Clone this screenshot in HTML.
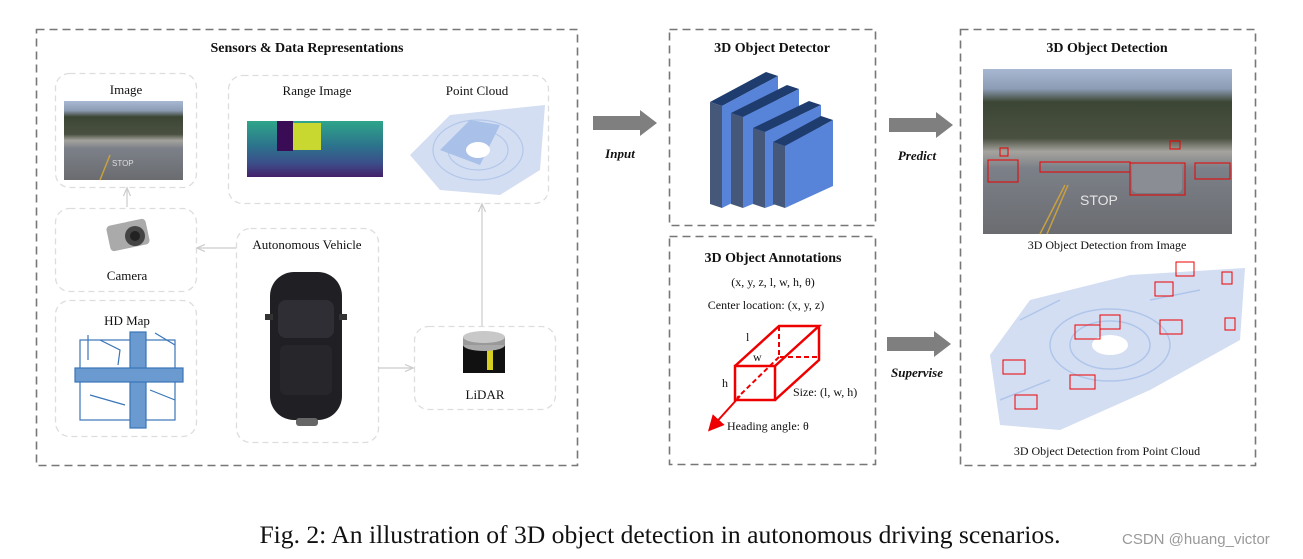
<!DOCTYPE html>
<html><head><meta charset="utf-8">
<style>
body{margin:0;width:1303px;height:559px;background:#fff;position:relative;overflow:hidden;font-family:"Liberation Serif",serif;color:#111}
.t{position:absolute;white-space:nowrap;transform:translateX(-50%)}
</style></head><body>
<svg width="1303" height="559" style="position:absolute;left:0;top:0" font-family="Liberation Serif, serif">
<defs>
<marker id="ga" markerWidth="8" markerHeight="8" refX="6" refY="4" orient="auto"><path d="M0,1 L7,4 L0,7" fill="none" stroke="#ccc" stroke-width="1"/></marker>
<marker id="ra" markerWidth="8" markerHeight="8" refX="5" refY="4" orient="auto"><path d="M0,0 L8,4 L0,8 z" fill="#e00"/></marker>
<linearGradient id="sky" x1="0" y1="0" x2="0" y2="1"><stop offset="0" stop-color="#a9b8d2"/><stop offset="0.12" stop-color="#8d9cb5"/><stop offset="0.2" stop-color="#3c4634"/><stop offset="0.42" stop-color="#4a5040"/><stop offset="0.5" stop-color="#a5a39e"/><stop offset="0.6" stop-color="#7c8088"/><stop offset="1" stop-color="#6a6c70"/></linearGradient>
<linearGradient id="rng" x1="0" y1="0" x2="0" y2="1"><stop offset="0" stop-color="#2fa58a"/><stop offset="0.45" stop-color="#2c728c"/><stop offset="0.75" stop-color="#3b4f8a"/><stop offset="1" stop-color="#44206a"/></linearGradient>
</defs>
<g fill="none" stroke="#777" stroke-width="1.6" stroke-dasharray="8,5">
<rect x="36.5" y="29.5" width="541" height="436"/>
<rect x="669.5" y="29.5" width="206" height="196"/>
<rect x="669.5" y="236.5" width="206" height="228"/>
<rect x="960.5" y="29.5" width="295" height="436"/>
</g>
<g fill="none" stroke="#ddd" stroke-width="1.3" stroke-dasharray="6,4">
<rect x="55.5" y="73.5" width="141" height="114" rx="14"/>
<rect x="228.5" y="75.5" width="320" height="128" rx="14"/>
<rect x="55.5" y="208.5" width="141" height="83" rx="14"/>
<rect x="55.5" y="300.5" width="141" height="136" rx="14"/>
<rect x="236.5" y="228.5" width="142" height="214" rx="14"/>
<rect x="414.5" y="326.5" width="141" height="83" rx="14"/>
</g>
<g stroke="#ccc" stroke-width="1.2" fill="none">
<line x1="127" y1="207" x2="127" y2="189" marker-end="url(#ga)"/>
<line x1="236" y1="248" x2="198" y2="248" marker-end="url(#ga)"/>
<line x1="378" y1="368" x2="412" y2="368" marker-end="url(#ga)"/>
<line x1="482" y1="326" x2="482" y2="205" marker-end="url(#ga)"/>
</g>
<!-- image -->
<rect x="64" y="101" width="119" height="79" fill="url(#sky)"/>
<text x="112" y="166" font-size="8" fill="#ddd" font-family="Liberation Sans">STOP</text>
<line x1="100" y1="180" x2="110" y2="155" stroke="#c9a040" stroke-width="1.5"/>
<!-- range image -->
<rect x="247" y="121" width="136" height="56" fill="url(#rng)"/>
<rect x="277" y="121" width="16" height="30" fill="#3a0c55"/>
<rect x="293" y="123" width="28" height="27" fill="#c8d830"/>
<!-- point cloud -->
<polygon points="410,155 450,115 545,105 540,170 500,195 440,190" fill="#d3def2"/>
<g fill="none" stroke="#b3c7ea" stroke-width="1.2"><ellipse cx="478" cy="150" rx="30" ry="20"/><ellipse cx="478" cy="150" rx="45" ry="30"/></g>
<polygon points="440,150 470,120 500,125 480,165" fill="#a9c1e8"/>
<ellipse cx="478" cy="150" rx="12" ry="8" fill="#fff"/>
<!-- camera -->
<rect x="108" y="222" width="40" height="26" rx="4" fill="#aaa" transform="rotate(-12 128 235)"/>
<circle cx="135" cy="236" r="10" fill="#444"/><circle cx="135" cy="236" r="5" fill="#222"/>
<!-- HD map -->
<g stroke="#3a75b8" stroke-width="1.2" fill="none">
<rect x="80" y="340" width="95" height="80"/>
<rect x="130" y="332" width="16" height="96" fill="#6a9ad0"/>
<rect x="75" y="368" width="108" height="14" fill="#6a9ad0"/>
<path d="M88,335 L88,360 M100,340 L120,350 L118,365 M155,333 L175,345 M150,390 L175,400 M90,395 L125,405"/>
</g>
<!-- car -->
<rect x="270" y="272" width="72" height="148" rx="24" fill="#1f1f24"/>
<rect x="278" y="300" width="56" height="38" rx="8" fill="#2e2e34"/>
<rect x="280" y="345" width="52" height="50" rx="6" fill="#26262b"/>
<rect x="265" y="314" width="8" height="6" fill="#333"/><rect x="339" y="314" width="8" height="6" fill="#333"/>
<rect x="296" y="418" width="22" height="8" rx="3" fill="#666"/>
<!-- lidar -->
<rect x="463" y="345" width="42" height="28" fill="#111"/>
<rect x="487" y="348" width="6" height="22" fill="#d8d020"/>
<ellipse cx="484" cy="345" rx="21" ry="6" fill="#aaa"/>
<rect x="463" y="337" width="42" height="8" fill="#999"/>
<ellipse cx="484" cy="337" rx="21" ry="6" fill="#c8c8c8"/>
<!-- big arrows -->
<g fill="#7f7f7f">
<polygon points="593,116 640,116 640,110 657,123 640,136 640,130 593,130"/>
<polygon points="889,118 936,118 936,112 953,125 936,138 936,132 889,132"/>
<polygon points="887,337 934,337 934,331 951,344 934,357 934,351 887,351"/>
</g>
<!-- cubes -->
<g>
<g><polygon points="710,102 766,72 778,76 722,106" fill="#1f3c6e"/><polygon points="710,102 722,106 722,208 710,204" fill="#45587a"/><polygon points="722,106 778,76 778,180 722,208" fill="#5783d9"/></g>
<g><polygon points="731,113 787,85 799,89 743,117" fill="#1f3c6e"/><polygon points="731,113 743,117 743,208 731,204" fill="#45587a"/><polygon points="743,117 799,89 799,185 743,208" fill="#5783d9"/></g>
<g><polygon points="753,128 809,101 821,105 765,132" fill="#1f3c6e"/><polygon points="753,128 765,132 765,208 753,204" fill="#45587a"/><polygon points="765,132 821,105 821,188 765,208" fill="#5783d9"/></g>
<g><polygon points="773,142 821,116 833,120 785,146" fill="#1f3c6e"/><polygon points="773,142 785,146 785,208 773,204" fill="#45587a"/><polygon points="785,146 833,120 833,186 785,208" fill="#5783d9"/></g>
</g>
<!-- 3D box -->
<g stroke="#e00" stroke-width="2.5" fill="none">
<rect x="735" y="366" width="40" height="34"/>
<path d="M735,366 L779,326 L819,326 L775,366 M819,326 L819,360 L775,400"/>
<path d="M779,326 L779,357 L819,357 M779,357 L737,398" stroke-dasharray="5,3" stroke-width="2"/>
<line x1="740" y1="396" x2="712" y2="427" marker-end="url(#ra)" stroke-width="2"/>
</g>
<!-- right image -->
<rect x="983" y="69" width="249" height="165" fill="url(#sky)"/>
<rect x="1132" y="163" width="50" height="30" rx="5" fill="#8a8e94"/>
<text x="1080" y="205" font-size="14" fill="#e4e4e4" font-family="Liberation Sans">STOP</text>
<path d="M1040,234 L1065,185 M1047,234 L1068,185" stroke="#c9a040" stroke-width="1.5"/>
<g fill="none" stroke="#e00" stroke-width="1"><rect x="988" y="160" width="30" height="22"/><rect x="1130" y="163" width="55" height="32"/><rect x="1040" y="162" width="90" height="10"/><rect x="1195" y="163" width="35" height="16"/><rect x="1000" y="148" width="8" height="8"/><rect x="1170" y="141" width="10" height="8"/></g>
<!-- right point cloud -->
<polygon points="990,355 1030,300 1130,275 1245,268 1240,340 1150,390 1060,430 1000,425" fill="#d3def2"/>
<g fill="none" stroke="#b0c5ea" stroke-width="1.5"><ellipse cx="1110" cy="345" rx="40" ry="24"/><ellipse cx="1110" cy="345" rx="60" ry="36"/><path d="M1020,320 L1060,300 M1000,400 L1050,380 M1150,300 L1200,290"/></g>
<ellipse cx="1110" cy="345" rx="18" ry="10" fill="#fff"/>
<g fill="none" stroke="#e00" stroke-width="1"><rect x="1003" y="360" width="22" height="14"/><rect x="1015" y="395" width="22" height="14"/><rect x="1070" y="375" width="25" height="14"/><rect x="1075" y="325" width="25" height="14"/><rect x="1100" y="315" width="20" height="14"/><rect x="1160" y="320" width="22" height="14"/><rect x="1155" y="282" width="18" height="14"/><rect x="1176" y="262" width="18" height="14"/><rect x="1222" y="272" width="10" height="12"/><rect x="1225" y="318" width="10" height="12"/></g>
</svg>
<div class="t" style="left:307px;top:41px;font-weight:bold;font-size:14px">Sensors &amp; Data Representations</div>
<div class="t" style="left:126px;top:82px;font-size:13px">Image</div>
<div class="t" style="left:317px;top:83px;font-size:13px">Range Image</div>
<div class="t" style="left:477px;top:83px;font-size:13px">Point Cloud</div>
<div class="t" style="left:127px;top:268px;font-size:13px">Camera</div>
<div class="t" style="left:127px;top:313px;font-size:13px">HD Map</div>
<div class="t" style="left:307px;top:237px;font-size:13px">Autonomous Vehicle</div>
<div class="t" style="left:485px;top:387px;font-size:13px">LiDAR</div>
<div class="t" style="left:620px;top:146px;font-size:13px;font-weight:bold;font-style:italic">Input</div>
<div class="t" style="left:772px;top:41px;font-size:14px;font-weight:bold">3D Object Detector</div>
<div class="t" style="left:773px;top:251px;font-size:14px;font-weight:bold">3D Object Annotations</div>
<div class="t" style="left:773px;top:275px;font-size:12px">(x, y, z, l, w, h, θ)</div>
<div class="t" style="left:766px;top:298px;font-size:12px">Center location: (x, y, z)</div>
<div style="position:absolute;left:746px;top:330px;font-size:12px">l</div>
<div style="position:absolute;left:753px;top:350px;font-size:12px">w</div>
<div style="position:absolute;left:722px;top:376px;font-size:12px">h</div>
<div style="position:absolute;left:793px;top:385px;font-size:12px">Size: (l, w, h)</div>
<div style="position:absolute;left:727px;top:419px;font-size:12px">Heading angle: θ</div>
<div class="t" style="left:917px;top:148px;font-size:13px;font-weight:bold;font-style:italic">Predict</div>
<div class="t" style="left:917px;top:365px;font-size:13px;font-weight:bold;font-style:italic">Supervise</div>
<div class="t" style="left:1107px;top:41px;font-size:14px;font-weight:bold">3D Object Detection</div>
<div class="t" style="left:1107px;top:238px;font-size:12px">3D Object Detection from Image</div>
<div class="t" style="left:1107px;top:444px;font-size:12px">3D Object Detection from Point Cloud</div>
<div class="t" style="left:660px;top:520px;font-size:25.6px">Fig. 2: An illustration of 3D object detection in autonomous driving scenarios.</div>
<div style="position:absolute;left:1122px;top:531px;font-size:15px;color:#999;font-family:'Liberation Sans',sans-serif">CSDN @huang_victor</div>
</body></html>
